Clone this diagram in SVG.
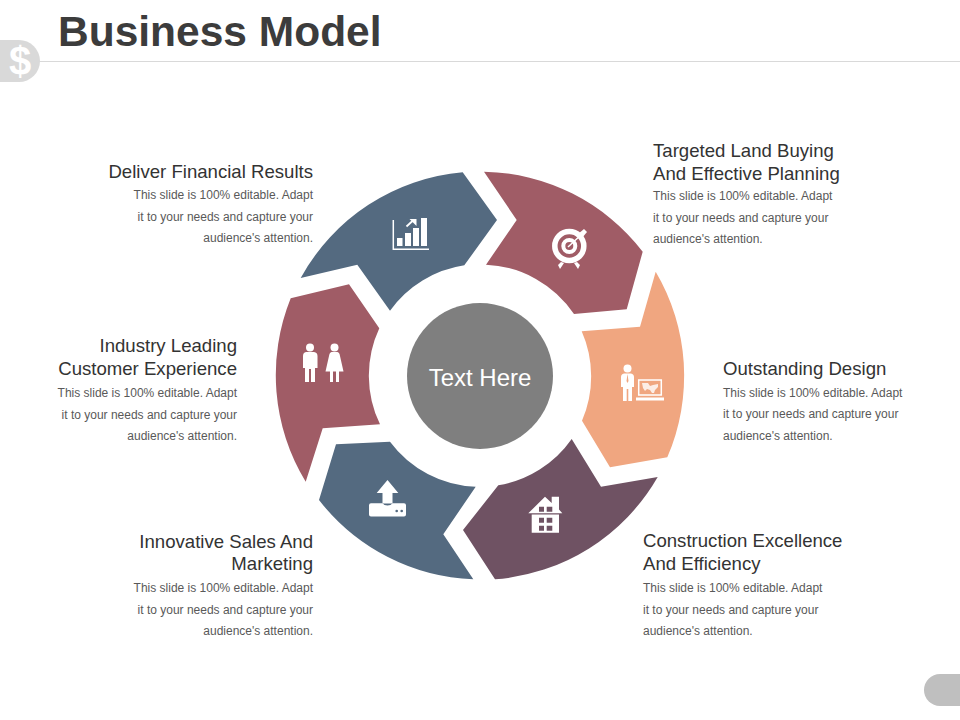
<svg xmlns="http://www.w3.org/2000/svg" width="960" height="720" viewBox="0 0 960 720">
<style>
text{font-family:"Liberation Sans",Arial,sans-serif}
.t{font-size:42.500px;font-weight:700;fill:#3c3c3c}
.h{font-size:18.600px;fill:#333}
.b{font-size:12px;fill:#595959}
.e{text-anchor:end}
.w{fill:#fff}
.ws{fill:none;stroke:#fff}
</style>
<rect width="960" height="720" fill="#fff"/>
<g id="header">
<line x1="36" y1="61.500" x2="960" y2="61.500" stroke="#d9d9d9" stroke-width="1"/>
<path d="M0 40H19A21 21 0 0 1 19 82H0Z" fill="#d9d9d9"/>
<text x="20" y="75" text-anchor="middle" font-size="40" font-weight="700" fill="#fff">$</text>
<text class="t" x="58" y="46">Business Model</text>
</g>
<g id="page-tab"><path d="M960 674H940A16 16 0 0 0 940 706H960Z" fill="#bfbfbf"/></g>

<g id="node-deliver">
<path d="M300.700 278A205 205 0 0 1 462.700 172.300L497 220L464.300 265.300A112 112 0 0 0 390 310.700L357.300 264.700Z" fill="#546a80"/>
<path class="ws" stroke-width="1.500" d="M393.300 220V249.200H429"/>
<path class="w" d="M397 238h5.500v8H397zM405 233h6v13h-6zM413 228h6v18h-6zM421 218h6v28h-6z"/>
<path class="ws" stroke-width="1.800" d="M406.500 226.500L413 220.500"/>
<path class="w" d="M409.500 219H416.500V226Z"/>
<text class="h e" x="313" y="178">Deliver Financial Results</text>
<text class="b e" x="313" y="199">This slide is 100% editable. Adapt</text>
<text class="b e" x="313" y="221">it to your needs and capture your</text>
<text class="b e" x="313" y="242">audience's attention.</text>
</g>

<g id="node-targeted">
<path d="M484 171.700A205 205 0 0 1 642.700 251.700L626.700 309.300L574 314A112 112 0 0 0 486 264.700L516.700 220Z" fill="#a05c66"/>
<circle class="ws" cx="569.300" cy="246" r="14.500" stroke-width="5.500"/>
<circle class="ws" cx="569.300" cy="246" r="6" stroke-width="4"/>
<path class="ws" stroke-width="1.500" d="M568 247L582 234"/>
<path class="w" d="M578 234L584 229L587 232L582 238Z"/>
<path class="w" d="M558 265L561 262L564 263L560 269ZM580 265L577 262L574 263L578 269Z"/>
<text class="h" x="653" y="157">Targeted Land Buying</text>
<text class="h" x="653" y="180">And Effective Planning</text>
<text class="b" x="653" y="200">This slide is 100% editable. Adapt</text>
<text class="b" x="653" y="222">it to your needs and capture your</text>
<text class="b" x="653" y="243">audience's attention.</text>
</g>

<g id="node-outstanding">
<path d="M655.700 271.700A205 205 0 0 1 667.300 457.300L610 467.300L582 420.700A112 112 0 0 0 581.700 331.300L640 326.700Z" fill="#f0a680"/>
<circle class="w" cx="627.500" cy="368.500" r="4"/>
<path class="w" d="M624 373.500H631Q634 374 634 377V387H632V401H628.300V389H626.700V401H623V387H621V377Q621 374 624 373.500Z"/>
<path d="M627.500 374L626.500 381L627.500 383L628.500 381Z" fill="#f0a680"/>
<rect class="ws" x="638.700" y="380" width="22.600" height="15" stroke-width="1.500"/>
<path d="M642 383h6l2 3 3-1 5-1v3l-3 3-1 3h-2l-2-3-3-1-2 2-2-3z" fill="#fff" opacity=".8"/>
<rect class="w" x="636" y="397.500" width="28" height="3"/>
<text class="h" x="723" y="375">Outstanding Design</text>
<text class="b" x="723" y="397">This slide is 100% editable. Adapt</text>
<text class="b" x="723" y="418">it to your needs and capture your</text>
<text class="b" x="723" y="440">audience's attention.</text>
</g>

<g id="node-construction">
<path d="M657.700 477A205 205 0 0 1 495 579.300L463 530L498.300 485.300A112 112 0 0 0 571.700 439L601 486.700Z" fill="#6f5263"/>
<path class="w" d="M545 496.700L551.700 503V496.700H559V509.500L562.300 513.300H528.300Z"/>
<path class="w" fill-rule="evenodd" d="M531.700 514.500H559V532.700H531.700ZM539 517.700V522.700H544V517.700ZM546.700 517.700V522.700H552.300V517.700ZM539 525.700V530.700H544V525.700ZM546.700 525.700V530.700H552.300V525.700Z"/>
<path d="M539 506.700H544V511.700H539ZM546.700 506.700H552.300V511.700H546.700Z" fill="#6f5263"/>
<text class="h" x="643" y="547">Construction Excellence</text>
<text class="h" x="643" y="570">And Efficiency</text>
<text class="b" x="643" y="592">This slide is 100% editable. Adapt</text>
<text class="b" x="643" y="614">it to your needs and capture your</text>
<text class="b" x="643" y="635">audience's attention.</text>
</g>

<g id="node-innovative">
<path d="M473.300 579.300A205 205 0 0 1 319 500L336 444.300L390 441.700A112 112 0 0 0 475.700 486.700L443.300 534.300Z" fill="#546a80"/>
<path class="w" d="M387.500 480L398.300 493H392.500V503.500H382.500V493H376.700Z"/>
<path class="w" d="M371 503.300H382.500Q384 505.500 387.500 505.500Q391 505.500 392.500 503.300H404Q406 503.300 406 505.300V514.500Q406 516.500 404 516.500H371Q369 516.500 369 514.500V505.300Q369 503.300 371 503.300Z"/>
<circle cx="396.700" cy="511" r="1.300" fill="#546a80"/><circle cx="401.700" cy="511" r="1.300" fill="#546a80"/>
<text class="h e" x="313" y="548">Innovative Sales And</text>
<text class="h e" x="313" y="570">Marketing</text>
<text class="b e" x="313" y="592">This slide is 100% editable. Adapt</text>
<text class="b e" x="313" y="614">it to your needs and capture your</text>
<text class="b e" x="313" y="635">audience's attention.</text>
</g>

<g id="node-industry">
<path d="M305.700 481.700A205 205 0 0 1 290.700 298.300L349 284.300L379.300 328.300A112 112 0 0 0 380 424.300L322.700 428.300Z" fill="#a05c66"/>
<circle class="w" cx="310" cy="347.500" r="4"/>
<path class="w" d="M306 352H314Q317.500 352.500 317.500 356V368H315V382H311V369H309V382H305V368H303V356Q303 352.500 306 352Z"/>
<circle class="w" cx="334.500" cy="347.500" r="4"/>
<path class="w" d="M331.500 352H337.500Q339.500 352.500 340 356L343.500 371.500H339V382H336V371.500H333V382H330V371.500H325.500L329 356Q329.500 352.500 331.500 352Z"/>
<text class="h e" x="237" y="352">Industry Leading</text>
<text class="h e" x="237" y="375">Customer Experience</text>
<text class="b e" x="237" y="397">This slide is 100% editable. Adapt</text>
<text class="b e" x="237" y="419">it to your needs and capture your</text>
<text class="b e" x="237" y="440">audience's attention.</text>
</g>

<g id="node-center">
<circle cx="480" cy="376" r="73" fill="#7f7f7f"/>
<text x="480" y="386" text-anchor="middle" font-size="24" fill="#fff">Text Here</text>
</g>
</svg>
